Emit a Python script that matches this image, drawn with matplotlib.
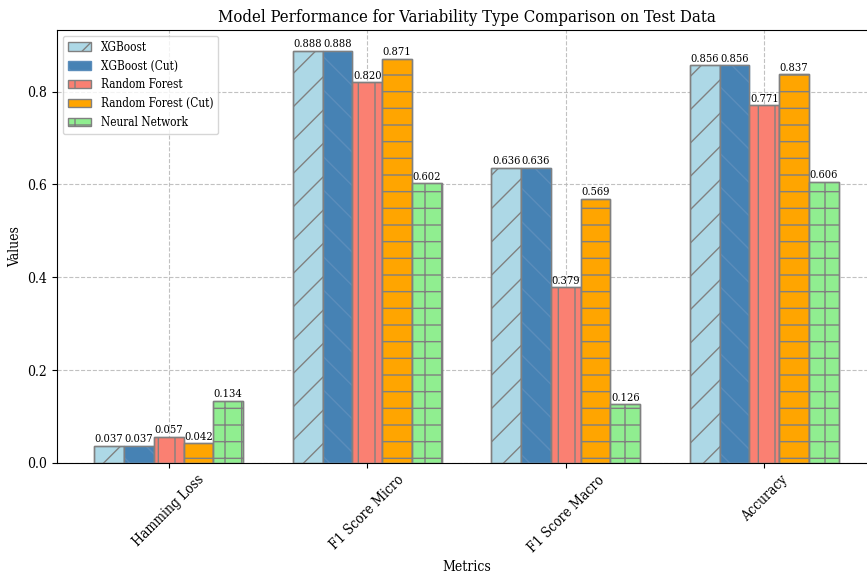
import matplotlib
matplotlib.use("Agg")
import matplotlib.pyplot as plt
import numpy as np

plt.rcParams['font.family'] = ['DejaVu Serif']
plt.rcParams['font.stretch'] = 'condensed'
plt.rcParams['hatch.color'] = 'grey'

metrics = ["Hamming Loss", "F1 Score Micro", "F1 Score Macro", "Accuracy"]
models = ["XGBoost", "XGBoost (Cut)", "Random Forest", "Random Forest (Cut)", "Neural Network"]
xgb = [0.037, 0.888, 0.636, 0.856]
xgb_cut = [0.037, 0.888, 0.636, 0.856]
rf = [0.057, 0.820, 0.379, 0.771]
rf_cut = [0.042, 0.871, 0.569, 0.837]
nn = [0.134, 0.602, 0.126, 0.606]
series = [xgb, xgb_cut, rf, rf_cut, nn]
colors = ["lightblue", "steelblue", "salmon", "orange", "lightgreen"]
hatches = ["/", "\\", "|", "-", "+"]
hatch_colors = ["grey", "#5b8dbb", "grey", "grey", "grey"]

fig = plt.figure(figsize=(8.67, 5.74), dpi=100)
ax = fig.add_axes([0.0657, 0.1934, 0.9447, 0.7543])
x = np.arange(len(metrics))
w = 0.15
handles = []
for i, (vals, c, h, hc, name) in enumerate(zip(series, colors, hatches, hatch_colors, models)):
    pos = x + (i - 2) * w
    ax.bar(pos, vals, w, color=c, hatch=h, edgecolor=hc, zorder=3)
    bars = ax.bar(pos, vals, w, fill=False, edgecolor='grey', zorder=3, linewidth=1)
    for b, v in zip(bars, vals):
        ax.text(b.get_x() + b.get_width() / 2, v + 0.003, f"{v:.3f}", ha='center', va='bottom', fontsize=8, zorder=4)
    handles.append(plt.Rectangle((0, 0), 1, 1, facecolor=c, hatch=h, edgecolor='grey' if hc == 'grey' else hc, label=name))

ax.set_xticks(x)
ax.set_xticklabels(metrics, rotation=45)
ax.set_xlabel("Metrics", fontsize=10)
ax.set_ylabel("Values", fontsize=10)
ax.set_title("Model Performance for Variability Type Comparison on Test Data", fontsize=12)
ax.grid(True, linestyle='--', color='#bbbbbb', alpha=0.9, zorder=0)
ax.set_axisbelow(True)
ax.legend(handles=handles, loc='upper left', fontsize=8.5)
fig.savefig("out.png", dpi=100)
